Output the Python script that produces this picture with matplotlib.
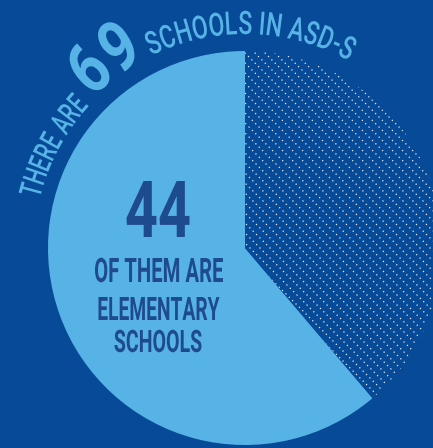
import numpy as np
import matplotlib
matplotlib.use("Agg")
import matplotlib.pyplot as plt
from matplotlib.font_manager import FontProperties
from matplotlib.textpath import TextPath, TextToPath
from matplotlib.patches import PathPatch
from matplotlib.transforms import Affine2D

# data
slice_labels = ["Elementary", "Other schools"]
slice_shares = [61.2, 38.8]          # share of the circle as drawn
arc_parts = ["THERE ARE", "69", "SCHOOLS IN ASD-S"]
big_number = "44"
center_lines = ["OF THEM ARE", "ELEMENTARY", "SCHOOLS"]

BG = "#064a98"
LIGHT = "#57b2e5"
DARK = "#1e4a8e"

W, H = 433, 448
fig = plt.figure(figsize=(W / 100, H / 100), dpi=100)
fig.patch.set_facecolor(BG)
ax = fig.add_axes([0, 0, 1, 1])
ax.set_facecolor(BG)

# pie, 1 data unit = 1 pixel
cx, cy, R = 245, H - 248, 197
wedges, _ = ax.pie(slice_shares, colors=[LIGHT, BG], startangle=90,
                   counterclock=True, center=(cx, cy), radius=R,
                   wedgeprops=dict(linewidth=0))
ax.set_xlim(0, W)
ax.set_ylim(0, H)
ax.set_aspect("equal")
ax.axis("off")

# dotted diagonal hatch inside the second slice
xs_line = np.array([0, W])
for c in np.arange(0, W + H + 10, 10):
    ln, = ax.plot(xs_line, c - xs_line, color="white", lw=0.9, alpha=0.9,
                  linestyle=(0, (1.0, 2.8)), solid_capstyle="butt")
    ln.set_clip_path(wedges[1])

ttp = TextToPath()


def text_width(s, prop):
    if not s:
        return 0.0
    return ttp.get_text_width_height_descent(s, prop, ismath=False)[0]


def sized_prop(weight, cap):
    p = FontProperties(family="Roboto", weight=weight, size=100)
    ratio = TextPath((0, 0), "H", prop=p).get_extents().height / 100
    p.set_size(cap / ratio)
    return p


# letters set one by one along a circle round the pie centre
def arc_text(s, a_start, a_end, r, cap, color, weight="normal"):
    p = sized_prop(weight, cap)
    a0, a1 = np.radians(a_start), np.radians(a_end)
    full = text_width(s, p)
    sx = (a0 - a1) * r / full
    for i, ch in enumerate(s):
        if ch == " ":
            continue
        x0 = text_width(s[:i], p)
        x1 = text_width(s[:i + 1], p)
        a = a0 - (x0 + x1) / 2 * sx / r
        path = TextPath((0, 0), ch, prop=p)
        ext = path.get_extents()
        tr = (Affine2D().translate(-(ext.x0 + ext.width / 2), 0).scale(sx, 1)
              .rotate(a - np.pi / 2)
              .translate(cx + r * np.cos(a), cy + r * np.sin(a)))
        ax.add_patch(PathPatch(tr.transform_path(path), fc=color, lw=0))


# condensed straight line of text, squeezed to a given width
def flat_text(s, xc, yb, cap, width, color, weight="normal"):
    p = sized_prop(weight, cap)
    path = TextPath((0, 0), s, prop=p)
    ext = path.get_extents()
    sx = width / ext.width
    tr = Affine2D().translate(-(ext.x0 + ext.width / 2), 0).scale(sx, 1).translate(xc, yb)
    ax.add_patch(PathPatch(tr.transform_path(path), fc=color, lw=0))


# curved heading round the top of the pie
arc_text(arc_parts[0], 166.5, 137.5, 211, 22, LIGHT, weight="medium")
arc_text(arc_parts[1], 135.5, 117.8, 214, 50, LIGHT, weight="bold")
arc_text(arc_parts[2], 116, 61, 214, 23, LIGHT, weight="medium")

# text in the light slice
flat_text(big_number, 158, H - 237, 56, 63, DARK, weight="bold")
flat_text(center_lines[0], 159, H - 282, 24, 128, DARK, weight="semibold")
flat_text(center_lines[1], 159, H - 320, 23, 121, DARK, weight="semibold")
flat_text(center_lines[2], 158, H - 352, 22, 87, DARK, weight="semibold")

fig.savefig("out.png", dpi=100, facecolor=BG)
